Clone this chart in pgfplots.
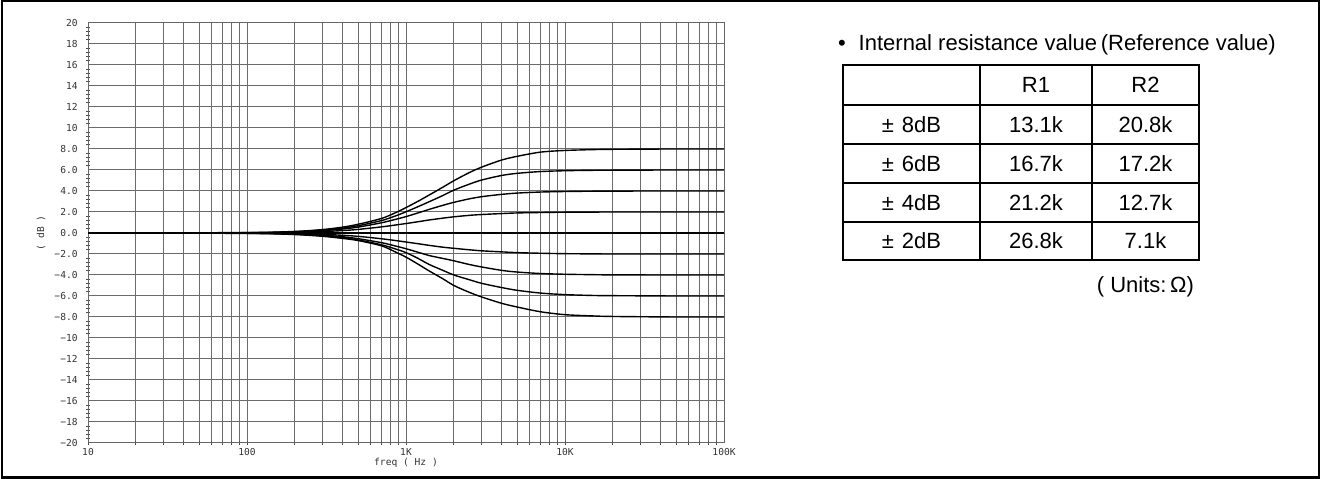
\documentclass[border=0pt]{standalone}
\usepackage{fontspec}
\setmainfont{Liberation Sans}
\newfontfamily\plotfont{DejaVu Sans Mono}
\usepackage{pgfplots}
\pgfplotsset{compat=1.18}

\pgfplotstableread{
f      p8    p6    p4    p2    m2     m4     m6     m8
10     0     0     0     0     0      0      0      0
100    0.04  0.03  0.025 0.013 -0.012 -0.024 -0.03  -0.04
200    0.15  0.12  0.10  0.05  -0.05  -0.10  -0.12  -0.15
300    0.33  0.27  0.22  0.14  -0.13  -0.21  -0.26  -0.32
400    0.56  0.46  0.38  0.23  -0.22  -0.36  -0.44  -0.52
500    0.83  0.69  0.56  0.34  -0.32  -0.54  -0.66  -0.72
700    1.38  1.18  0.97  0.58  -0.55  -0.92  -1.12  -1.22
850    1.90  1.60  1.28  0.75  -0.71  -1.22  -1.50  -1.78
1000   2.42  2.02  1.56  0.90  -0.86  -1.50  -1.87  -2.30
1200   3.05  2.53  1.93  1.08  -1.03  -1.85  -2.45  -3.00
1400   3.62  2.98  2.25  1.24  -1.18  -2.15  -3.00  -3.62
1700   4.35  3.56  2.63  1.41  -1.35  -2.42  -3.55  -4.35
2000   4.98  4.08  2.92  1.54  -1.46  -2.65  -4.00  -5.00
2500   5.75  4.65  3.25  1.68  -1.60  -3.00  -4.45  -5.65
3000   6.28  5.05  3.46  1.76  -1.70  -3.24  -4.80  -6.10
4000   6.95  5.48  3.68  1.85  -1.80  -3.56  -5.20  -6.70
5000   7.30  5.68  3.80  1.91  -1.87  -3.72  -5.46  -7.05
7000   7.70  5.85  3.90  1.95  -1.93  -3.86  -5.72  -7.50
10000  7.86  5.93  3.95  1.98  -1.97  -3.93  -5.87  -7.78
15000  7.94  5.97  3.98  1.99  -1.99  -3.97  -5.95  -7.90
20000  7.97  5.98  3.99  2.00  -2.00  -3.99  -5.97  -7.95
50000  8.00  6.00  4.00  2.00  -2.00  -4.00  -6.00  -8.00
100000 8.00  6.00  4.00  2.00  -2.00  -4.00  -6.00  -8.00
}\curves

\begin{document}
\begin{tikzpicture}[x=0.5bp,y=0.5bp]
\useasboundingbox (0,0) rectangle (1320,479);
\draw[line width=1.25bp] (2,1.25) rectangle (1318.75,477.75);

\begin{axis}[
    at={(44bp,18bp)}, anchor=south west,
    scale only axis, width=318bp, height=210bp,
    xmode=log, xmin=10, xmax=100000,
    ymin=-20, ymax=20,
    xtick={10,100,1000,10000,100000},
    xticklabels={10,100,1K,10K,100K},
    ytick={-20,-18,...,20},
    yticklabels={−20,−18,−16,−14,−12,−10,−8.0,−6.0,−4.0,−2.0,0.0,2.0,4.0,6.0,8.0,10,12,14,16,18,20},
    minor y tick num=4,
    xmajorgrids, xminorgrids, ymajorgrids,
    grid style={black!58, line width=0.5bp},
    minor grid style={black!58, line width=0.5bp},
    axis line style={black!60, line width=0.5bp},
    tick align=center,
    major tick length=0pt,
    minor tick length=2bp,
    every minor tick/.style={black!70, line width=0.4bp},
    xtick pos=bottom, ytick pos=left,
    tick label style={font=\plotfont\fontsize{4.8bp}{5bp}\selectfont, text=black!80, inner sep=0pt},
    xticklabel style={yshift=-2.5bp},
    yticklabel style={xshift=-5bp},
  ]
\addplot[black, line width=1bp] coordinates {(10,0) (100000,0)};
\foreach \c in {p8,p6,p4,p2,m2,m4,m6,m8}{
  \addplot[black, line width=0.7bp, smooth] table[x=f, y=\c] {\curves};
}
\end{axis}

\node[font=\plotfont\fontsize{4.8bp}{5bp}\selectfont, text=black!80, rotate=90] at (41,246) {( dB )};
\node[font=\plotfont\fontsize{4.8bp}{5bp}\selectfont, text=black!80] at (406,16) {freq ( Hz )};

% table of internal resistances
\node[anchor=west, font=\fontsize{11bp}{13bp}\selectfont] at (831,434)
  {•\hspace{6.5bp}Internal resistance value\,(Reference value)};
\begin{scope}[line width=1.3bp]
\draw (843,414) rectangle (1199,219);
\foreach \yy in {374,335,296,257} \draw (843,\yy) -- (1199,\yy);
\foreach \xx in {980,1092} \draw (\xx,414) -- (\xx,219);
\end{scope}
\begin{scope}[every node/.style={font=\fontsize{11bp}{13bp}\selectfont}]
\node at (1036,394) {R1};
\node at (1145.5,394) {R2};
\node at (911.5,354.5) {±\hspace{4bp}8dB};
\node at (911.5,315.5) {±\hspace{4bp}6dB};
\node at (911.5,276.5) {±\hspace{4bp}4dB};
\node at (911.5,238)   {±\hspace{4bp}2dB};
\node at (1036,354.5) {13.1k};
\node at (1036,315.5) {16.7k};
\node at (1036,276.5) {21.2k};
\node at (1036,238)   {26.8k};
\node at (1145.5,354.5) {20.8k};
\node at (1145.5,315.5) {17.2k};
\node at (1145.5,276.5) {12.7k};
\node at (1145.5,238)   {7.1k};
\node[anchor=east] at (1201,192) {( Units:\,Ω)};
\end{scope}
\end{tikzpicture}
\end{document}
